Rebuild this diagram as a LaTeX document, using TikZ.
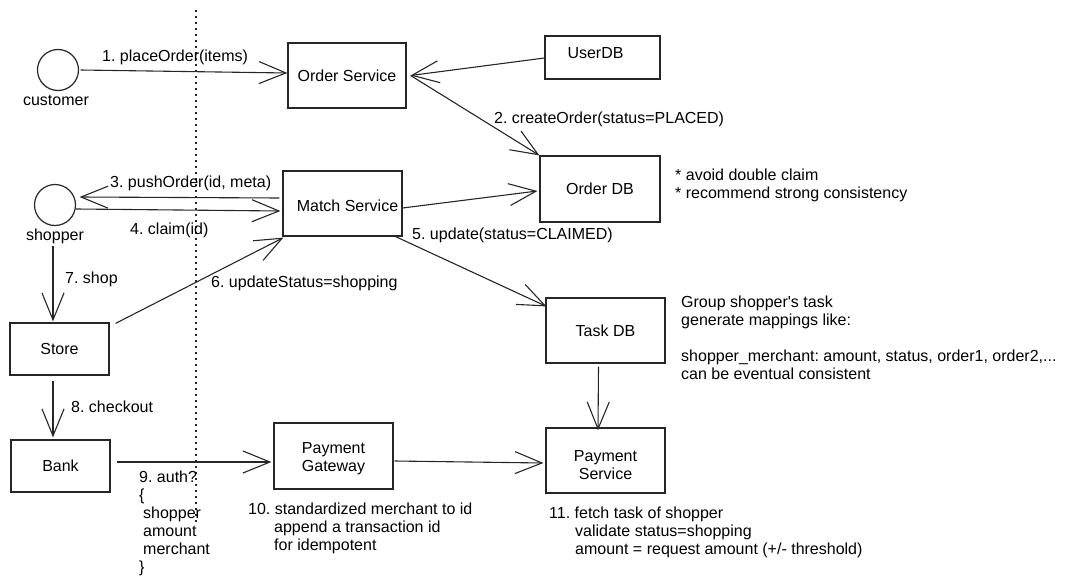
\documentclass[tikz,border=0pt]{standalone}
\usepackage{fontspec}
\setmainfont{Liberation Sans}[Ligatures=TeXOff]
\usetikzlibrary{arrows.meta}
\tikzset{
  service/.style={draw=black!85,line width=1.2pt,fill=none,inner sep=0pt,align=center},
  actor/.style={circle,draw=black!85,line width=1.2pt,inner sep=0pt,minimum size=41pt},
  caption/.style={anchor=base west,inner sep=0pt,align=left},
  flow/.style={draw=black!85,line width=1.1pt,-{Straight Barb[length=27pt,width=22pt,line width=1.1pt]}},
}
\begin{document}
\begin{tikzpicture}[x=1pt,y=-1pt,font=\fontsize{16}{18}\selectfont\frenchspacing]
\useasboundingbox (0,0) rectangle (1065,586);
\coordinate (border-top) at (196,10);
\coordinate (border-bottom) at (196,522);
\path[draw=black!85,line width=1.5pt,dash pattern=on 2pt off 4pt] (border-top) -- (border-bottom);
\node[actor] (customer) at (58,70) {};
\node[inner sep=0pt] (customer-label) at (56,100) {customer};
\node[actor] (shopper) at (55,205) {};
\node[inner sep=0pt] (shopper-label) at (55,236) {shopper};
\node[service,minimum width=118pt,minimum height=65pt] (order-service) at (347,75.5) {Order Service};
\node[service,minimum width=115pt,minimum height=43pt] (user-db) at (602.5,57.5) {\hspace*{-14pt}\rule[-9pt]{0pt}{0pt}UserDB};
\node[service,minimum width=120pt,minimum height=66pt] (order-db) at (600,189) {Order DB};
\node[service,minimum width=119pt,minimum height=65pt] (match-service) at (342.5,203.5) {\hspace*{10pt}\rule{0pt}{15.5pt}Match Service};
\node[service,minimum width=119pt,minimum height=65pt] (task-db) at (605.5,330.5) {Task DB};
\node[service,minimum width=119pt,minimum height=65pt] (payment-service) at (605.5,460.5) {\rule{0pt}{19.5pt}Payment\\Service};
\node[service,minimum width=119pt,minimum height=66pt] (payment-gateway) at (333.5,456) {\rule{0pt}{15.5pt}Payment\\Gateway};
\node[service,minimum width=99pt,minimum height=52pt] (store) at (59.5,349) {Store};
\node[service,minimum width=99pt,minimum height=52pt] (bank) at (60.5,466) {Bank};
\path[flow] ([xshift=1.5pt]customer.east) -- ([yshift=2.5pt]order-service.west);
\path[flow] ([yshift=-0.5pt]user-db.west) -- ([xshift=4pt]order-service.east);
\path[flow] ([xshift=4pt]order-service.east) -- (order-db.north west);
\path[flow] ([xshift=-3pt,yshift=5.5pt]match-service.west) -- ([xshift=3.5pt,yshift=8pt]shopper.east);
\path[flow] ([yshift=-4pt]shopper.east) -- ([xshift=-2pt,yshift=-7.5pt]match-service.west);
\path[flow] ([yshift=-4.5pt]match-service.east) -- ([xshift=-2pt,yshift=-2pt]order-db.west);
\path[flow] ([xshift=-7pt]match-service.south east) -- ([xshift=1pt,yshift=-9pt]task-db.north west);
\path[flow] ([xshift=6pt,yshift=-1pt]store.north east) -- ([xshift=1pt,yshift=-1pt]match-service.south west);
\path[flow] ([xshift=-2pt,yshift=-2pt]shopper-label.south) -- ([xshift=-6.5pt,yshift=1pt]store.north);
\path[flow] ([xshift=-6.5pt,yshift=-5pt]store.south) -- ([xshift=-7.5pt,yshift=2pt]bank.north);
\path[flow] ([xshift=6pt,yshift=4pt]bank.east) -- ([xshift=-2pt,yshift=-6pt]payment-gateway.west);
\path[flow] ([xshift=1pt,yshift=-5pt]payment-gateway.east) -- ([xshift=-2pt,yshift=-2.5pt]payment-service.west);
\path[flow] ([xshift=-7pt,yshift=-3pt]task-db.south) -- ([xshift=-7.5pt,yshift=-3pt]payment-service.north);
\node[caption] (step-1) at (102,62) {1. placeOrder(items)};
\node[caption] (step-2) at (494,123) {2. createOrder(status=PLACED)};
\node[caption] (step-3) at (110,187) {3. pushOrder(id, meta)};
\node[caption] (step-4) at (130,234) {4. claim(id)};
\node[caption] (step-5) at (412,239) {5. update(status=CLAIMED)};
\node[caption] (step-6) at (211,287) {6. updateStatus=shopping};
\node[caption] (step-7) at (65,283) {7. shop};
\node[caption] (step-8) at (71,412) {8. checkout};
\node[caption] (step-9) at (139,572) {9. auth?\\\{\\\hspace*{4pt}shopper\\\hspace*{4pt}amount\\\hspace*{4pt}merchant\\\}};
\node[caption] (step-10) at (248,550) {10. standardized merchant to id\\\hspace*{26pt}append a transaction id\\\hspace*{26pt}for idempotent};
\node[caption] (step-11) at (549,554) {11. fetch task of shopper\\\hspace*{26pt}validate status=shopping\\\hspace*{26pt}amount = request amount (+/- threshold)};
\node[caption] (order-note) at (675,198) {* avoid double claim\\* recommend strong consistency};
\node[caption] (task-note) at (681,379) {Group shopper's task\\generate mappings like:\\[18pt]shopper\_merchant: amount, status, order1, order2,...\\can be eventual consistent};
\end{tikzpicture}
\end{document}
